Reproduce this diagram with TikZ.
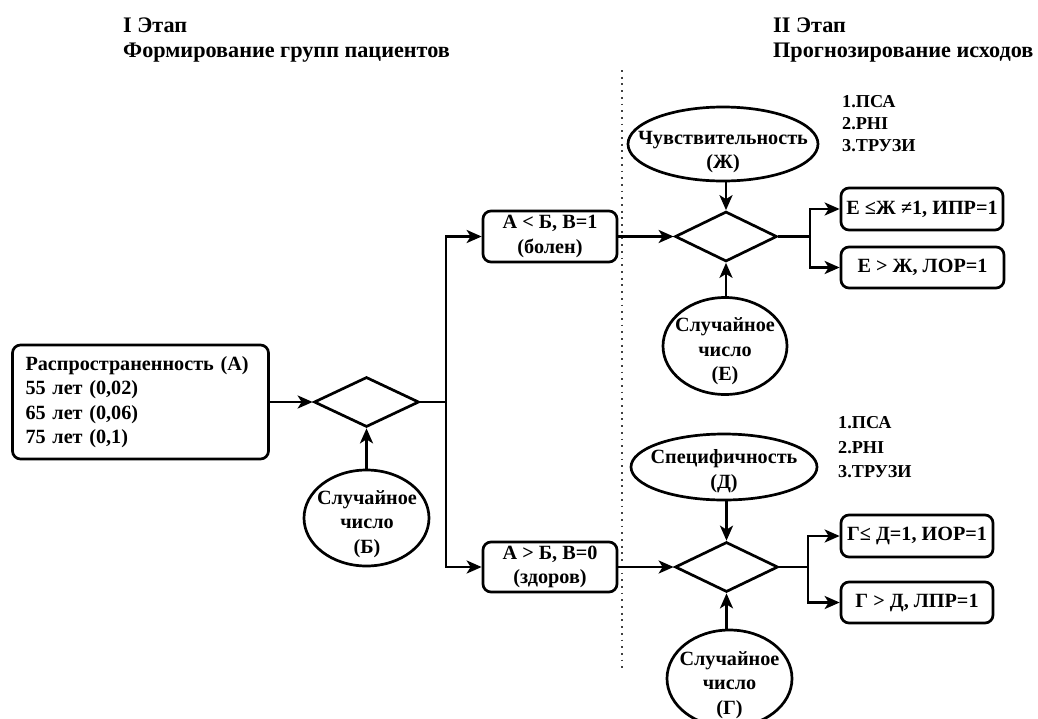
\documentclass[tikz,border=0pt]{standalone}
\usepackage{fontspec}
\setmainfont{Liberation Serif}
\usetikzlibrary{shapes.geometric,arrows.meta}

\begin{document}
\begin{tikzpicture}[x=1pt,y=-1pt,
  every node/.style={font=\fontsize{20.2}{24.5}\selectfont\bfseries},
  line/.style={line width=2.7pt},
  arr/.style={line width=2.7pt,-{Stealth[length=15pt,width=13pt,inset=4pt]}},
  rbox/.style={draw,line width=2.7pt,rounded corners=8pt,inner sep=0pt,align=center},
  dia/.style={draw,diamond,line width=2.7pt,inner sep=0pt},
  ell/.style={draw,ellipse,line width=2.7pt,inner sep=0pt},
  etxt/.style={align=center,inner sep=0pt},
  ttl/.style={font=\fontsize{22.2}{26}\selectfont\bfseries,inner sep=0pt},
  lst/.style={font=\fontsize{18.2}{21.7}\selectfont\bfseries,inner sep=0pt,align=left},
  sep/.style={line width=1.8pt,dash pattern=on 1.8pt off 4.9pt,black!75}
]
\useasboundingbox (0,0) rectangle (1038,718);

% headings of the two stages
\node[ttl,anchor=base west] (t1a) at (123,32) {I Этап};
\node[ttl,anchor=base west] (t1b) at (123,57) {Формирование групп пациентов};
\node[ttl,anchor=base west] (t2a) at (773,32) {II Этап};
\node[ttl,anchor=base west] (t2b) at (773,57) {Прогнозирование исходов};

% stage separator
\draw[sep] (622,70) -- (622,672);

% stage I: forming patient groups
\node[rbox,text width=230pt,align=left,inner xsep=13pt,minimum height=114pt]
  (prev) at (140.5,402) {Распространенность (А)\\55 лет (0,02)\\65 лет (0,06)\\75 лет (0,1)};
\node[dia,minimum width=105pt,minimum height=50pt] (d1) at (366.5,402) {};
\node[ell,minimum width=125pt,minimum height=96pt] (rb) at (366.5,518) {};
\node[etxt] (rbt) at (367,524) {Случайное\\число\\(Б)};

\node[rbox,minimum width=134pt,minimum height=51pt] (sick) at (550,236.5) {А < Б, В=1\\(болен)};
\node[rbox,minimum width=134pt,minimum height=50pt] (well) at (550,567) {А > Б, В=0\\(здоров)};

\draw[arr] (prev.east) -- (d1.west);
\draw[arr] (rb.north) -- (d1.south);
\coordinate (j1) at (446,402);
\draw[line] (d1.east) -- (j1);
\draw[arr] (j1) |- (sick.west);
\draw[arr] (j1) |- (well.west);

% stage II, upper branch: sensitivity
\node[ell,minimum width=190pt,minimum height=74pt] (sens) at (723,144) {};
\node[etxt] (senst) at (723,152) {Чувствительность\\(Ж)};
\node[lst,anchor=west] (l1) at (842,123.5) {1.ПСА\\2.PHI\\3.ТРУЗИ};
\node[dia,minimum width=102pt,minimum height=50pt] (d2) at (726,236.5) {};
\node[ell,minimum width=124pt,minimum height=97pt] (re) at (725,346) {};
\node[etxt] (ret) at (725,351.5) {Случайное\\число\\(Е)};
\node[rbox,minimum width=162pt,minimum height=42pt] (r1) at (922,209) {Е ≤Ж ≠1, ИПР=1};
\node[rbox,minimum width=163pt,minimum height=41pt] (r2) at (922.5,267.5) {Е > Ж, ЛОР=1};

\draw[arr] (sick.east) -- (d2.west);
\draw[arr] (d2.north |- sens.south) -- (d2.north);
\draw[arr] (d2.south |- re.north) -- (d2.south);
\coordinate (j2) at (810,236.5);
\draw[line] (d2.east) -- (j2);
\draw[arr] (j2) |- (r1.west);
\draw[arr] (j2) |- (r2.west);

% stage II, lower branch: specificity
\node[ell,minimum width=186pt,minimum height=66pt] (spec) at (724,467) {};
\node[etxt] (spect) at (724,471) {Специфичность\\(Д)};
\node[lst,font=\fontsize{18.2}{24.5}\selectfont\bfseries,anchor=west] (l2) at (838,447.5) {1.ПСА\\2.PHI\\3.ТРУЗИ};
\node[dia,minimum width=103pt,minimum height=50pt] (d3) at (726.5,567) {};
\node[ell,minimum width=125pt,minimum height=97pt] (rg) at (729.5,678.5) {};
\node[etxt] (rgt) at (729.5,685) {Случайное\\число\\(Г)};
\node[rbox,minimum width=152pt,minimum height=42pt] (r3) at (917,536) {Г≤ Д=1, ИОР=1};
\node[rbox,minimum width=152pt,minimum height=41pt] (r4) at (917,602.5) {Г > Д, ЛПР=1};

\draw[arr] (well.east) -- (d3.west);
\draw[arr] (d3.north |- spec.south) -- (d3.north);
\draw[arr] (d3.south |- rg.north) -- (d3.south);
\coordinate (j3) at (808,567);
\draw[line] (d3.east) -- (j3);
\draw[arr] (j3) |- (r3.west);
\draw[arr] (j3) |- (r4.west);
\end{tikzpicture}
\end{document}
